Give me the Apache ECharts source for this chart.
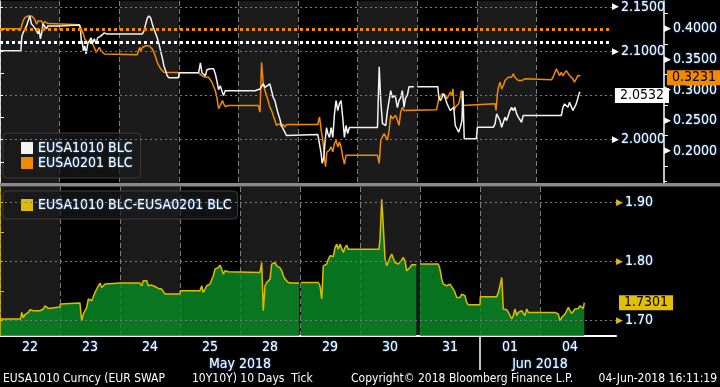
<!DOCTYPE html>
<html><head><meta charset="utf-8">
<script src="https://cdn.jsdelivr.net/npm/echarts@6/dist/echarts.min.js"></script>
<style>html,body{margin:0;padding:0;background:#000;overflow:hidden}#c{width:720px;height:387px}</style>
</head><body><div id="c"></div>
<script>
const FONT = "'Liberation Sans Narrow','Arial Narrow','DejaVu Sans Condensed',sans-serif";

// ---- categories / tick labels ----
const dayLabels = ['22','23','24','25','28','29','30','31','01','04'];
const dayLabelPos = [0.5,1.5,2.5,3.5,4.5,5.5,6.5,7.5,8.5,9.5];
const monthLabels = ['May 2018','Jun 2018'];
const monthLabelPos = [4, 9];
const monthBoundary = [8];
const leftTicks = [1.95, 2.00, 2.05, 2.10, 2.15];
const leftLabels = [2.00, 2.10, 2.15];
const rightTicks = [0.15, 0.20, 0.25, 0.30, 0.35, 0.40];
const rightLabels = [0.20, 0.25, 0.30, 0.35, 0.40];
const spreadTicks = [1.70, 1.80, 1.90];
const refLevel1010 = 2.106;
const refLevel0201 = 0.400;
const footer = ['EUSA1010 Curncy (EUR SWAP', '10Y10Y) 10 Days  Tick', 'Copyright\u00a9 2018 Bloomberg Finance L.P.', '04-Jun-2018 16:11:19'];

// ---- series values: [trading-day position, value] ----
const eusa1010 = [[0,2.1005],[0.35,2.1005],[0.367,2.1173],[0.388,2.1207],[0.445,2.1286],[0.5,2.1399],[0.528,2.1309],[0.555,2.132],[0.583,2.1264],[0.612,2.1286],[0.638,2.1196],[0.655,2.1252],[0.678,2.114],[0.7,2.1207],[0.722,2.1309],[0.75,2.132],[0.778,2.1252],[0.805,2.1286],[0.833,2.1264],[1,2.1286],[1.333,2.1297],[1.35,2.1252],[1.367,2.1083],[1.378,2.1117],[1.4,2.1005],[1.422,2.1061],[1.445,2.0971],[1.472,2.1083],[1.5,2.1095],[1.528,2.1151],[1.555,2.1095],[1.583,2.114],[1.612,2.1083],[1.638,2.1151],[1.667,2.114],[1.695,2.1173],[1.722,2.1151],[1.75,2.1207],[1.778,2.1218],[1.788,2.1196],[2.388,2.1196],[2.417,2.123],[2.445,2.1309],[2.472,2.1376],[2.5,2.1399],[2.528,2.1376],[2.555,2.1309],[2.583,2.1252],[2.612,2.123],[2.638,2.1151],[2.667,2.1083],[2.722,2.0926],[2.75,2.0836],[2.778,2.0779],[2.805,2.0723],[2.833,2.07],[2.992,2.07],[3.008,2.0757],[3.333,2.076],[3.362,2.0869],[3.388,2.0757],[3.417,2.0779],[3.445,2.0723],[3.472,2.079],[3.5,2.0779],[3.528,2.0802],[3.555,2.0813],[3.583,2.0802],[3.612,2.0745],[3.638,2.0667],[3.667,2.0565],[3.695,2.061],[3.722,2.0554],[3.75,2.0498],[3.778,2.0554],[4.278,2.0554],[4.362,2.0573],[4.388,2.0577],[4.417,2.063],[4.445,2.0592],[4.472,2.061],[4.528,2.063],[4.555,2.0622],[4.583,2.0479],[4.612,2.0441],[4.638,2.0366],[4.667,2.0292],[4.695,2.0235],[4.722,2.016],[4.75,2.0141],[4.778,2.0085],[4.805,2.0047],[5.333,2.0058],[5.367,1.9923],[5.388,1.9845],[5.405,1.9732],[5.433,1.98],[5.455,1.9991],[5.478,2.0137],[5.5,2.007],[5.528,2.0025],[5.555,2.0137],[5.583,2.0025],[5.612,2.0295],[5.638,2.0441],[5.667,2.0329],[5.695,2.0408],[5.722,2.0441],[5.75,2.025],[5.778,2.0025],[5.805,2.016],[5.833,2.007],[5.862,2.0137],[6.333,2.0137],[6.362,2.0824],[6.388,2.0441],[6.417,2.0182],[6.445,2.0194],[6.472,2.016],[6.5,2.0329],[6.528,2.0441],[6.555,2.0554],[6.583,2.0475],[6.612,2.0498],[6.638,2.0475],[6.667,2.0363],[6.695,2.0441],[6.722,2.0475],[6.75,2.0554],[6.778,2.0366],[6.805,2.0475],[6.833,2.0498],[6.862,2.0599],[6.945,2.0599],[6.97,null],[7,2.0599],[7.345,2.0599],[7.362,2.0479],[7.388,2.0441],[7.417,2.0479],[7.445,2.052],[7.472,2.0498],[7.5,2.0408],[7.528,2.0366],[7.555,2.0329],[7.583,2.031],[7.612,2.0366],[7.638,2.016],[7.667,2.0141],[7.695,2.0085],[7.722,2.0141],[7.75,2.0216],[7.767,2.0554],[7.788,2.001],[7.992,2.001],[8.008,2.0141],[8.278,2.0141],[8.305,2.0179],[8.333,2.0292],[8.362,2.0254],[8.388,2.0216],[8.417,2.0141],[8.445,2.0123],[8.472,2.0254],[8.5,2.0216],[8.528,2.0273],[8.555,2.0329],[8.583,2.0366],[8.612,2.0329],[8.638,2.0366],[8.667,2.0292],[8.695,2.0254],[8.722,2.0273],[8.75,2.0197],[8.778,2.0273],[9.417,2.0273],[9.445,2.0366],[9.472,2.0404],[9.5,2.0422],[9.528,2.0366],[9.555,2.0422],[9.583,2.0441],[9.612,2.0329],[9.638,2.0366],[9.667,2.0404],[9.695,2.0422],[9.722,2.0535],[9.738,2.0532]];

const eusa0201 = [[0,0.4],[0.35,0.4],[0.362,0.4049],[0.388,0.413],[0.417,0.4184],[0.445,0.42],[0.472,0.4212],[0.5,0.4195],[0.528,0.4212],[0.555,0.4184],[0.583,0.4158],[0.612,0.4077],[0.638,0.413],[0.667,0.4103],[0.695,0.413],[0.722,0.4077],[0.75,0.4119],[0.778,0.4103],[0.805,0.4086],[0.833,0.4065],[1.333,0.4065],[1.35,0.4049],[1.378,0.3967],[1.4,0.3914],[1.422,0.3832],[1.445,0.3805],[1.472,0.3777],[1.5,0.3751],[1.528,0.3805],[1.555,0.3751],[1.583,0.3695],[1.612,0.3614],[1.638,0.3588],[1.667,0.3695],[1.695,0.3642],[1.722,0.3614],[1.75,0.3588],[1.778,0.3577],[2.305,0.3577],[2.322,0.3642],[2.345,0.3695],[2.362,0.3642],[2.388,0.3695],[2.417,0.3669],[2.445,0.3723],[2.472,0.3751],[2.5,0.3723],[2.528,0.3695],[2.555,0.3669],[2.583,0.3614],[2.612,0.3533],[2.638,0.3451],[2.667,0.3398],[2.695,0.3344],[2.722,0.3316],[2.75,0.3288],[2.778,0.3272],[3.333,0.3279],[3.362,0.3288],[3.388,0.3235],[3.417,0.3235],[3.445,0.3207],[3.472,0.3235],[3.5,0.3207],[3.528,0.3181],[3.555,0.3126],[3.583,0.31],[3.612,0.299],[3.638,0.2881],[3.667,0.2692],[3.695,0.2746],[3.722,0.2718],[3.733,0.2827],[3.75,0.2774],[3.778,0.273],[3.805,0.2718],[3.833,0.2746],[4.333,0.2746],[4.362,0.2637],[4.388,0.3451],[4.417,0.31],[4.445,0.299],[4.472,0.2909],[4.5,0.2881],[4.528,0.2718],[4.555,0.2665],[4.583,0.2583],[4.612,0.2502],[4.638,0.242],[4.667,0.2393],[4.695,0.2448],[4.722,0.2404],[4.75,0.2437],[4.778,0.2393],[4.805,0.2432],[5.333,0.2432],[5.345,0.2502],[5.362,0.2556],[5.388,0.2339],[5.417,0.2176],[5.445,0.1851],[5.462,0.1742],[5.483,0.1981],[5.5,0.1986],[5.528,0.2014],[5.555,0.2067],[5.583,0.1986],[5.612,0.2123],[5.638,0.2176],[5.667,0.2067],[5.695,0.2149],[5.722,0.2067],[5.75,0.1904],[5.778,0.1785],[5.805,0.1932],[6.333,0.1932],[6.362,0.1796],[6.388,0.2176],[6.417,0.223],[6.445,0.2285],[6.472,0.223],[6.5,0.2176],[6.528,0.2339],[6.555,0.2583],[6.583,0.2529],[6.612,0.2555],[6.638,0.2583],[6.667,0.2502],[6.695,0.242],[6.722,0.2632],[6.75,0.2713],[6.778,0.2664],[6.805,0.2676],[7.322,0.2676],[7.333,0.2718],[7.362,0.2855],[7.388,0.2881],[7.417,0.2937],[7.445,0.2963],[7.472,0.2909],[7.5,0.2855],[7.528,0.2827],[7.555,0.2963],[7.583,0.2909],[7.6,0.3018],[7.622,0.2664],[7.638,0.2718],[7.667,0.2692],[7.695,0.2774],[7.722,0.2881],[7.738,0.299],[7.762,0.2746],[7.778,0.2774],[8.305,0.2774],[8.322,0.2664],[8.345,0.2937],[8.362,0.3044],[8.388,0.3126],[8.417,0.3018],[8.445,0.3072],[8.472,0.3153],[8.5,0.3181],[8.528,0.3207],[8.555,0.3235],[8.583,0.3207],[8.612,0.3262],[8.638,0.3207],[8.667,0.3181],[8.695,0.3153],[8.722,0.3126],[8.75,0.3153],[8.778,0.3153],[8.805,0.3181],[8.833,0.3165],[9.25,0.3165],[9.278,0.3207],[9.305,0.3235],[9.333,0.3344],[9.362,0.3288],[9.388,0.3235],[9.417,0.3288],[9.445,0.3235],[9.472,0.3207],[9.5,0.3316],[9.528,0.3288],[9.555,0.3235],[9.583,0.3251],[9.612,0.3181],[9.638,0.3126],[9.667,0.3181],[9.695,0.3235],[9.722,0.3251],[9.738,0.3231]];

const spread = [[0,1.7024],[0.345,1.7024],[0.362,1.7135],[0.388,1.7046],[0.417,1.7096],[0.445,1.7096],[0.472,1.7135],[0.5,1.7181],[0.528,1.7193],[0.555,1.7164],[0.583,1.7181],[0.612,1.7164],[0.638,1.7135],[0.667,1.7164],[0.695,1.7135],[0.722,1.7193],[0.75,1.7248],[0.778,1.722],[0.805,1.7203],[0.833,1.722],[1,1.7226],[1.005,1.7277],[1.333,1.7294],[1.345,1.7147],[1.362,1.6995],[1.388,1.7108],[1.417,1.7164],[1.445,1.722],[1.472,1.7362],[1.5,1.7389],[1.528,1.7333],[1.555,1.7362],[1.583,1.7473],[1.612,1.753],[1.638,1.7586],[1.667,1.7632],[1.695,1.7557],[1.722,1.753],[1.75,1.7615],[1.778,1.7642],[2,1.7632],[2.333,1.7632],[2.362,1.7586],[2.388,1.7671],[2.417,1.7699],[2.445,1.7671],[2.472,1.7586],[2.5,1.7586],[2.528,1.7598],[2.555,1.7586],[2.583,1.7574],[2.612,1.7552],[2.638,1.7541],[2.667,1.753],[2.695,1.753],[2.722,1.7502],[2.75,1.7446],[3,1.7446],[3.005,1.7502],[3.333,1.7502],[3.362,1.7586],[3.388,1.7473],[3.417,1.753],[3.445,1.7586],[3.472,1.7586],[3.5,1.7615],[3.528,1.7598],[3.555,1.7755],[3.583,1.7868],[3.612,1.7868],[3.638,1.7895],[3.667,1.7936],[3.695,1.7868],[3.722,1.7784],[3.75,1.784],[3.778,1.7868],[3.805,1.7823],[3.833,1.7811],[4.333,1.7811],[4.362,1.798],[4.388,1.7164],[4.417,1.7586],[4.445,1.7642],[4.472,1.7671],[4.5,1.7699],[4.528,1.7953],[4.555,1.7924],[4.583,1.798],[4.612,1.7924],[4.638,1.7953],[4.667,1.789],[4.695,1.784],[4.722,1.7755],[4.75,1.7699],[4.778,1.7671],[4.805,1.7642],[4.862,1.7632],[4.983,1.7632],[5.0,null],[5.017,1.7642],[5.305,1.7642],[5.333,1.7586],[5.362,1.7362],[5.388,1.7924],[5.417,1.7936],[5.445,1.7953],[5.472,1.8037],[5.5,1.8093],[5.528,1.8122],[5.555,1.8081],[5.583,1.8233],[5.612,1.8291],[5.638,1.8206],[5.667,1.8291],[5.695,1.8308],[5.722,1.8149],[5.75,1.8233],[5.778,1.8274],[5.805,1.8206],[5.833,1.8178],[5.862,1.8206],[6.317,1.8206],[6.333,1.8375],[6.362,1.9051],[6.388,1.86],[6.417,1.8037],[6.445,1.7924],[6.472,1.7953],[6.5,1.8064],[6.528,1.8122],[6.555,1.8093],[6.583,1.798],[6.612,1.7953],[6.638,1.7953],[6.667,1.798],[6.695,1.8025],[6.722,1.8064],[6.75,1.8009],[6.778,1.784],[6.805,1.7823],[6.833,1.7895],[6.862,1.7941],[6.938,1.7941],[6.97,null],[7,1.7953],[7.305,1.7953],[7.333,1.7868],[7.362,1.7699],[7.388,1.7615],[7.417,1.7642],[7.445,1.7586],[7.472,1.7615],[7.5,1.7615],[7.528,1.7586],[7.555,1.753],[7.583,1.7473],[7.612,1.7389],[7.638,1.7417],[7.667,1.7389],[7.695,1.7446],[7.722,1.7473],[7.75,1.7417],[7.778,1.7304],[7.805,1.7265],[8,1.7265],[8.005,1.74],[8.278,1.74],[8.305,1.7473],[8.333,1.7586],[8.362,1.7727],[8.388,1.7193],[8.417,1.7164],[8.445,1.7181],[8.472,1.7135],[8.5,1.7164],[8.528,1.7024],[8.555,1.708],[8.583,1.7193],[8.612,1.708],[8.638,1.7135],[8.667,1.7147],[8.695,1.7164],[8.722,1.7135],[8.75,1.708],[8.778,1.7193],[8.805,1.7135],[8.862,1.7135],[9.25,1.7135],[9.278,1.7108],[9.305,1.7108],[9.333,1.6995],[9.362,1.7051],[9.388,1.708],[9.417,1.7108],[9.445,1.713],[9.472,1.722],[9.5,1.7164],[9.528,1.7119],[9.555,1.7135],[9.583,1.7193],[9.612,1.7203],[9.638,1.7203],[9.667,1.7248],[9.695,1.722],[9.722,1.7203],[9.738,1.7301]];

const last = a => a[a.length - 1][1];
const XMAX = 616 / 60;

const glow = {color: '#ffffff', textShadowColor: 'rgba(70,150,255,0.95)', textShadowBlur: 2, fontFamily: FONT};
const bandColors = [];
for (let i = 0; i < 11; i++) bandColors.push(i % 2 === 0 && i < 10 ? '#1b1b1b' : '#000000');
const vlineColors = [];
for (let i = 0; i < 12; i++) vlineColors.push(i < 10 ? '#7c7c7c' : 'rgba(0,0,0,0)');

function yAxisDef(o) {
  return {
    type: 'value', gridIndex: o.grid, position: 'right', offset: o.offset || 0,
    min: o.min, max: o.max, splitNumber: o.split || 5,
    axisLine: {show: true, lineStyle: {color: o.color, width: 1.5}},
    axisTick: {show: true, customValues: o.ticks, length: 3, lineStyle: {color: o.color}},
    minorTick: {show: true, splitNumber: 2, length: 4, lineStyle: {color: o.color}},
    axisLabel: {
      customValues: o.labels, margin: 0,
      formatter: v => '{t|\u25B6}{v|' + v.toFixed(o.dec) + '}',
      rich: {t: {color: o.color, fontSize: 9, padding: [0, 2, 0, 0]}, v: Object.assign({fontSize: 14}, glow)}
    },
    splitLine: {show: !!o.grid_lines, lineStyle: {color: '#7a7a7a', type: [2, 3]}},
    z: 5
  };
}

function lastLabel(value, bg, dist) {
  return {
    yAxis: value, lineStyle: {color: 'rgba(0,0,0,0)', width: 0.1},
    label: {show: true, position: 'end', distance: dist, formatter: value.toFixed(4),
      backgroundColor: bg, color: '#000', padding: [1, 5, 0, 5], fontSize: 14, fontFamily: FONT,
      opacity: 1, textBorderWidth: 0}
  };
}

const chart = echarts.init(document.getElementById('c'), null, {renderer: 'canvas'});
const option = {
  backgroundColor: '#000',
  animation: false,
  grid: [
    {left: 0, top: 0, width: 616, height: 183},
    {left: 0, top: 187, width: 616, height: 149}
  ],
  xAxis: [
    {gridIndex: 0, type: 'value', min: 0, max: XMAX, interval: 1,
      axisLine: {show: false}, axisTick: {show: false}, axisLabel: {show: false},
      splitLine: {show: true, lineStyle: {color: vlineColors, type: [5, 3]}},
      splitArea: {show: true, areaStyle: {color: bandColors}}},
    {gridIndex: 1, type: 'value', min: 0, max: XMAX, interval: 1, position: 'bottom',
      axisLine: {show: true, lineStyle: {color: '#ffffff', width: 2}}, axisTick: {show: false}, axisLabel: {show: false},
      splitLine: {show: true, lineStyle: {color: vlineColors, type: [5, 3]}},
      splitArea: {show: true, areaStyle: {color: bandColors}}},
    {gridIndex: 1, type: 'value', min: 0, max: XMAX, position: 'bottom',
      axisLine: {show: false}, splitLine: {show: false},
      axisTick: {show: true, customValues: monthBoundary, length: 34, lineStyle: {color: '#ffffff', width: 1.5}},
      axisLabel: Object.assign({customValues: dayLabelPos, margin: 4, fontSize: 14,
        formatter: v => dayLabels[Math.floor(v)]}, glow)},
    {gridIndex: 1, type: 'value', min: 0, max: XMAX, position: 'bottom', offset: 17,
      axisLine: {show: false}, splitLine: {show: false}, axisTick: {show: false},
      axisLabel: Object.assign({customValues: monthLabelPos, margin: 4, fontSize: 14,
        formatter: v => monthLabels[monthLabelPos.indexOf(v)]}, glow)}
  ],
  yAxis: [
    yAxisDef({grid: 0, min: 1.951, max: 2.1568, ticks: leftTicks, labels: leftLabels, dec: 4, color: '#ffffff', grid_lines: true}),
    yAxisDef({grid: 0, offset: 52, min: 0.1476, max: 0.4456, ticks: rightTicks, labels: rightLabels, dec: 4, color: '#ffffff'}),
    yAxisDef({grid: 1, min: 1.6736, max: 1.9258, split: 3, ticks: spreadTicks, labels: spreadTicks, dec: 2, color: '#dcbc00', grid_lines: true})
  ],
  legend: [
    {data: ['EUSA1010 BLC', 'EUSA0201 BLC'], orient: 'vertical', left: 3, top: 133, itemGap: 1,
      itemWidth: 12, itemHeight: 12, icon: 'rect', selectedMode: false,
      padding: [8, 8, 8, 18], backgroundColor: 'rgba(26,26,26,0.7)', borderColor: '#3c3c3c', borderWidth: 1, borderRadius: 4,
      textStyle: Object.assign({fontSize: 14, padding: [1, 0, 0, 0]}, glow)},
    {data: ['EUSA1010 BLC-EUSA0201 BLC'], orient: 'vertical', left: 3, top: 191,
      itemWidth: 12, itemHeight: 12, icon: 'rect', selectedMode: false,
      padding: [7, 6, 7, 18], backgroundColor: 'rgba(26,26,26,0.7)', borderColor: '#3c3c3c', borderWidth: 1, borderRadius: 4,
      textStyle: Object.assign({fontSize: 14, padding: [1, 0, 0, 0]}, glow)}
  ],
  series: [
    {name: 'EUSA0201 BLC', type: 'line', xAxisIndex: 0, yAxisIndex: 1, data: eusa0201,
      symbol: 'none', color: '#f28a00', lineStyle: {width: 1.5}, connectNulls: false, z: 3,
      markLine: {silent: true, symbol: 'none', animation: false, z: 10, data: [
        {yAxis: refLevel0201, lineStyle: {color: '#f28a00', type: [3, 3], width: 3}, label: {show: false}},
        lastLabel(last(eusa0201), '#f28a00', 55)
      ]}},
    {name: 'EUSA1010 BLC', type: 'line', xAxisIndex: 0, yAxisIndex: 0, data: eusa1010,
      symbol: 'none', color: '#f4f4f4', lineStyle: {width: 1.5}, connectNulls: false, z: 4,
      markLine: {silent: true, symbol: 'none', animation: false, z: 10, data: [
        {yAxis: refLevel1010, lineStyle: {color: '#ffffff', type: [3, 3], width: 3}, label: {show: false}},
        lastLabel(last(eusa1010), '#ffffff', 3)
      ]}},
    {name: 'EUSA1010 BLC-EUSA0201 BLC', type: 'line', xAxisIndex: 1, yAxisIndex: 2, data: spread,
      symbol: 'none', color: '#dcbc00', lineStyle: {width: 1.5}, connectNulls: false,
      areaStyle: {color: 'rgba(10,140,36,0.82)', origin: 'start', opacity: 1},
      markLine: {silent: true, symbol: 'none', animation: false, z: 10, data: [
        lastLabel(last(spread), '#e2c000', 3)
      ]}}
  ],
  graphic: [
    {type: 'rect', left: 0, top: 183, shape: {width: 720, height: 3.5}, style: {fill: '#8a8a8a'}, z: 100},
    ...[[11, 145], [11, 160], [11, 204]].map(p => ({type: 'group', x: p[0], y: p[1], z: 100, children: [
      {type: 'rect', shape: {x: 0, y: 0, width: 6, height: 6}, style: {fill: 'none', stroke: '#8a8a8a', lineWidth: 1}},
      {type: 'line', shape: {x1: 1.5, y1: 3, x2: 4.5, y2: 3}, style: {stroke: '#8a8a8a', lineWidth: 1}},
      {type: 'line', shape: {x1: 3, y1: 1.5, x2: 3, y2: 4.5}, style: {stroke: '#8a8a8a', lineWidth: 1}}
    ]})),
    {type: 'text', x: 3, y: 379, style: {text: footer[0], fill: '#fff', font: '12px ' + FONT, verticalAlign: 'middle'}},
    {type: 'text', x: 192, y: 379, style: {text: footer[1], fill: '#fff', font: '12px ' + FONT, verticalAlign: 'middle'}},
    {type: 'text', x: 351, y: 379, style: {text: footer[2], fill: '#fff', font: '12px ' + FONT, verticalAlign: 'middle'}},
    {type: 'text', x: 717, y: 379, style: {text: footer[3], fill: '#fff', font: '12px ' + FONT, align: 'right', verticalAlign: 'middle'}}
  ]
};
chart.setOption(option);
</script>
</body></html>
